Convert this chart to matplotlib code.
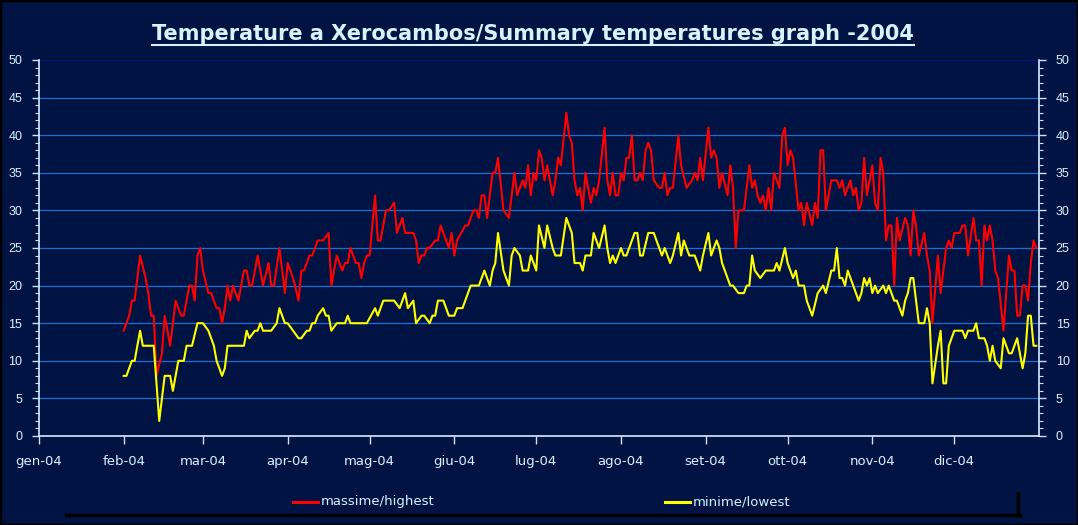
import pandas as pd
import matplotlib.pyplot as plt
from matplotlib.ticker import MultipleLocator
from matplotlib.lines import Line2D
from matplotlib.patches import Rectangle

# Daily highs / lows (day of year, 0 = 1 Jan 2004)
days_max = [31, 33, 34, 35, 37, 39, 40, 41, 42, 43, 45, 46, 48, 50, 52, 53, 55, 56, 57, 58,
            59, 60, 62, 63, 65, 66, 67, 68, 69, 70, 71, 73, 75, 76, 77, 78, 79, 80, 82, 84,
            85, 86, 88, 90, 91, 93, 95, 96, 97, 99, 100, 102, 104, 106, 107, 108, 109, 111, 112, 113,
            114, 116, 117, 118, 119, 120, 121, 123, 124, 125, 127, 128, 130, 131, 133, 134, 135, 137, 138, 139,
            140, 141, 142, 143, 145, 146, 147, 148, 150, 151, 152, 153, 156, 157, 159, 160, 161, 162, 163, 164,
            166, 167, 168, 170, 172, 174, 175, 177, 178, 179, 180, 181, 182, 183, 184, 185, 186, 188, 189, 190,
            191, 193, 194, 195, 196, 197, 198, 199, 200, 201, 202, 203, 204, 205, 207, 208, 209, 210, 211, 212,
            213, 214, 215, 216, 217, 218, 219, 220, 221, 222, 223, 224, 225, 227, 228, 229, 230, 231, 232, 234,
            235, 237, 239, 240, 241, 242, 243, 245, 246, 247, 248, 249, 250, 252, 253, 254, 255, 256, 258, 260,
            261, 262, 263, 264, 265, 266, 267, 268, 269, 271, 272, 273, 274, 275, 276, 278, 279, 280, 281, 283,
            284, 285, 286, 287, 288, 290, 292, 293, 294, 295, 297, 298, 299, 300, 301, 302, 303, 305, 306, 307,
            308, 309, 310, 311, 312, 313, 314, 315, 317, 318, 319, 320, 321, 322, 324, 325, 326, 327, 329, 330,
            332, 333, 334, 335, 337, 338, 339, 340, 342, 343, 344, 345, 346, 347, 348, 349, 350, 351, 353, 354,
            355, 356, 357, 358, 359, 360, 361, 362, 363, 364, 365]
temp_max = [14, 16, 18, 18, 24, 21, 19, 16, 16, 8, 11, 16, 12, 18, 16, 16, 20, 20, 18, 24,
            25, 22, 19, 19, 17, 17, 15, 17, 20, 18, 20, 18, 22, 22, 20, 20, 22, 24, 20, 23,
            20, 20, 25, 19, 23, 21, 18, 22, 22, 24, 24, 26, 26, 27, 20, 22, 24, 22, 23, 23,
            25, 23, 23, 21, 23, 24, 24, 32, 26, 26, 30, 30, 31, 27, 29, 27, 27, 27, 26, 23,
            24, 24, 25, 25, 26, 26, 28, 27, 25, 27, 24, 26, 28, 28, 30, 30, 29, 32, 32, 29,
            35, 35, 37, 30, 29, 35, 32, 34, 33, 36, 32, 35, 34, 38, 37, 34, 36, 32, 34, 37,
            36, 43, 40, 39, 34, 32, 33, 30, 35, 33, 31, 33, 32, 34, 41, 34, 32, 35, 32, 32,
            35, 34, 37, 37, 40, 34, 34, 35, 34, 38, 39, 38, 34, 33, 33, 35, 32, 33, 33, 40,
            36, 33, 34, 35, 34, 37, 34, 41, 37, 38, 37, 33, 35, 32, 36, 33, 25, 30, 30, 36,
            33, 34, 32, 31, 32, 30, 33, 30, 35, 33, 40, 41, 36, 38, 37, 30, 31, 28, 31, 28,
            31, 29, 38, 38, 30, 34, 34, 33, 34, 32, 34, 32, 33, 30, 31, 37, 32, 36, 31, 30,
            37, 35, 26, 28, 28, 20, 29, 26, 29, 28, 24, 30, 28, 24, 27, 24, 22, 15, 24, 19,
            25, 26, 25, 27, 27, 28, 28, 24, 29, 26, 26, 20, 28, 26, 28, 26, 22, 21, 14, 19,
            24, 22, 22, 16, 16, 20, 20, 18, 23, 26, 25]

days_min = [31, 32, 34, 35, 37, 38, 42, 44, 45, 46, 48, 49, 51, 53, 54, 56, 58, 60, 62, 63,
            64, 65, 67, 68, 69, 75, 76, 77, 79, 80, 81, 82, 84, 85, 87, 88, 90, 91, 93, 95,
            96, 98, 99, 100, 101, 102, 104, 105, 106, 107, 109, 112, 113, 114, 120, 123, 124, 126, 130, 132,
            134, 135, 137, 138, 140, 141, 143, 144, 145, 146, 148, 150, 152, 153, 155, 158, 161, 163, 165, 166,
            167, 168, 170, 172, 173, 174, 176, 177, 179, 180, 182, 183, 185, 186, 188, 189, 191, 193, 194, 195,
            196, 197, 198, 199, 200, 202, 203, 205, 207, 208, 209, 210, 211, 213, 214, 215, 216, 218, 219, 220,
            221, 223, 225, 227, 228, 229, 231, 232, 234, 235, 236, 238, 240, 241, 242, 243, 245, 246, 248, 249,
            250, 251, 253, 254, 256, 258, 259, 260, 261, 262, 264, 266, 269, 270, 271, 273, 274, 276, 277, 278,
            280, 281, 283, 285, 287, 288, 290, 291, 292, 293, 294, 295, 296, 297, 299, 300, 301, 302, 303, 304,
            305, 306, 307, 309, 310, 311, 312, 313, 314, 316, 317, 318, 319, 320, 321, 322, 324, 325, 326, 327,
            329, 330, 331, 332, 333, 335, 338, 339, 340, 342, 343, 344, 346, 347, 348, 349, 350, 352, 353, 354,
            355, 356, 358, 359, 360, 361, 362, 363, 364, 365]
temp_min = [8, 8, 10, 10, 14, 12, 12, 2, 5, 8, 8, 6, 10, 10, 12, 12, 15, 15, 14, 13,
            12, 10, 8, 9, 12, 12, 14, 13, 14, 14, 15, 14, 14, 14, 15, 17, 15, 15, 14, 13,
            13, 14, 14, 15, 15, 16, 17, 16, 16, 14, 15, 15, 16, 15, 15, 17, 16, 18, 18, 17,
            19, 17, 18, 15, 16, 16, 15, 16, 16, 18, 18, 16, 16, 17, 17, 20, 20, 22, 20, 22,
            23, 27, 22, 20, 24, 25, 24, 22, 22, 24, 22, 28, 25, 28, 25, 24, 24, 29, 28, 27,
            23, 23, 23, 22, 24, 24, 27, 25, 28, 25, 23, 24, 23, 25, 24, 24, 25, 27, 27, 24,
            24, 27, 27, 25, 24, 25, 23, 24, 27, 24, 26, 24, 24, 23, 22, 24, 27, 24, 26, 25,
            23, 22, 20, 20, 19, 19, 20, 20, 24, 22, 21, 22, 22, 23, 22, 25, 23, 21, 22, 20,
            20, 18, 16, 19, 20, 19, 22, 22, 25, 21, 21, 20, 22, 21, 19, 18, 19, 21, 20, 21,
            19, 20, 19, 20, 19, 20, 19, 18, 18, 16, 18, 19, 21, 21, 18, 15, 15, 17, 15, 7,
            12, 14, 7, 7, 12, 14, 14, 13, 14, 14, 15, 13, 13, 12, 10, 12, 10, 9, 13, 12,
            11, 11, 13, 11, 9, 11, 16, 16, 12, 12]

month_labels = ['gen-04', 'feb-04', 'mar-04', 'apr-04', 'mag-04', 'giu-04',
                'lug-04', 'ago-04', 'set-04', 'ott-04', 'nov-04', 'dic-04']

bg = '#001343'
txt = '#d6f4ff'
W, H = 1078, 525

start = pd.Timestamp('2004-01-01')
x_max = start + pd.to_timedelta(days_max, unit='D')
x_min = start + pd.to_timedelta(days_min, unit='D')

fig = plt.figure(figsize=(W / 100, H / 100), dpi=100, facecolor=bg)
ax = fig.add_axes([39 / W, 89 / H, 1000 / W, 376 / H], facecolor=bg)

# grid lines
for v in range(5, 50, 5):
    ax.axhline(v, color='#1a6ed4', lw=0.9, zorder=0)
ax.axhline(50, color='#0a0a9a', lw=1.2, zorder=0)

ax.plot(x_max, temp_max, color='#ff0000', lw=1.5, solid_joinstyle='round')
ax.plot(x_min, temp_min, color='#ffff00', lw=1.5, solid_joinstyle='round')

ax.set_xlim(start, pd.Timestamp('2005-01-01'))
ax.set_ylim(0, 50)

ax.yaxis.set_major_locator(MultipleLocator(5))
ax.yaxis.set_minor_locator(MultipleLocator(1))
ax.tick_params(axis='y', which='both', left=True, right=True, labelleft=True, labelright=True,
               colors='#c8e4ff', labelcolor=txt, direction='out')
ax.tick_params(axis='y', which='major', length=5, width=1, pad=7, labelsize=9)
ax.tick_params(axis='y', which='minor', length=3, width=0.8)
for lab in ax.get_yticklabels():
    lab.set_family(['Liberation Sans', 'DejaVu Sans'])

ax.set_xticks([pd.Timestamp(2004, m, 1) for m in range(1, 13)])
ax.set_xticklabels(month_labels, family=['Liberation Sans Narrow', 'DejaVu Sans'], fontsize=9.5)
ax.tick_params(axis='x', length=6, width=1, colors='#c8e4ff', labelcolor=txt, pad=8)

for side in ['left', 'right', 'bottom']:
    ax.spines[side].set_color('#d8ecff')
    ax.spines[side].set_linewidth(1.2)
ax.spines['top'].set_visible(False)

# title with underline
title = fig.text(533 / W, 1 - 34 / H, 'Temperature a Xerocambos/Summary temperatures graph -2004',
                 ha='center', va='center', color=txt, fontsize=15, fontweight='bold')
fig.canvas.draw()
bb = title.get_window_extent()
fig.add_artist(Line2D([bb.x0 / W, bb.x1 / W], [(bb.y0 - 1) / H, (bb.y0 - 1) / H],
                      transform=fig.transFigure, color=txt, lw=1.5))

# legend
leg_y = 1 - 502 / H
fig.add_artist(Line2D([293 / W, 318 / W], [leg_y, leg_y], transform=fig.transFigure, color='#ff0000', lw=2.2))
fig.text(321 / W, leg_y, 'massime/highest', color=txt, fontsize=9.5, va='center',
         family=['Liberation Sans Narrow', 'DejaVu Sans'])
fig.add_artist(Line2D([665 / W, 690 / W], [leg_y, leg_y], transform=fig.transFigure, color='#ffff00', lw=2.2))
fig.text(693 / W, leg_y, 'minime/lowest', color=txt, fontsize=9.5, va='center',
         family=['Liberation Sans Narrow', 'DejaVu Sans'])
# legend box shadow
fig.add_artist(Line2D([66 / W, 1020 / W], [1 - 515 / H, 1 - 515 / H], transform=fig.transFigure, color='black', lw=2.5))
fig.add_artist(Line2D([1018 / W, 1018 / W], [1 - 493 / H, 1 - 515 / H], transform=fig.transFigure, color='black', lw=2.5))

# outer frame
fig.add_artist(Rectangle((0, 0), 1, 1, transform=fig.transFigure, fill=False, edgecolor='black', lw=2.5))

fig.savefig('out.png', dpi=100, facecolor=bg)
